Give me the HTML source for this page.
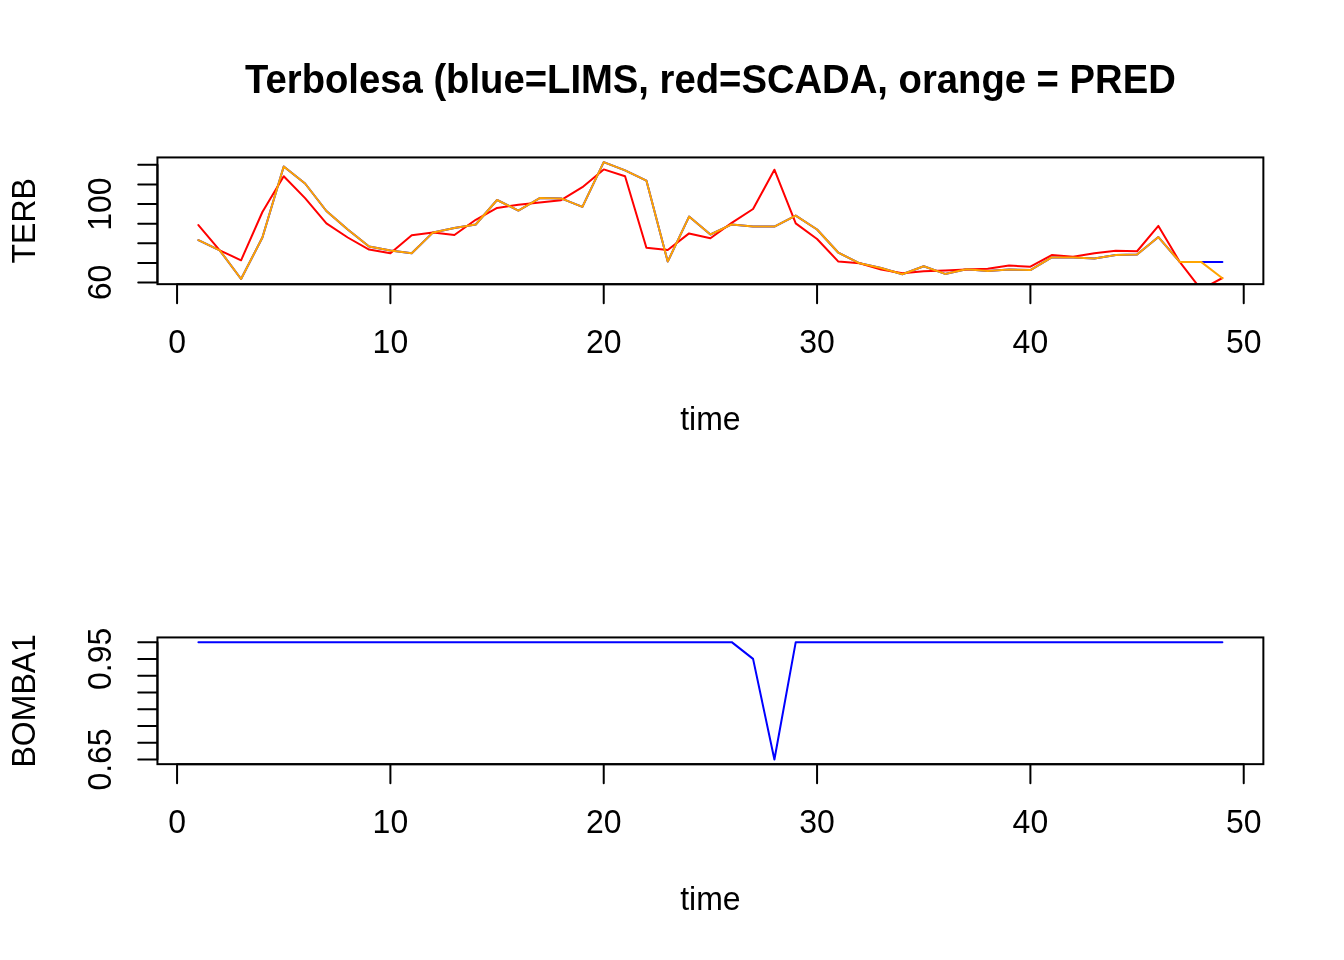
<!DOCTYPE html>
<html><head><meta charset="utf-8"><style>
html,body{margin:0;padding:0;background:#fff;}
svg{display:block;will-change:transform;}
.ax{font-family:"Liberation Sans",sans-serif;font-size:32px;fill:#000;}
.ti{font-family:"Liberation Sans",sans-serif;font-size:38.4px;font-weight:bold;fill:#000;}
</style></head><body>
<svg width="1344" height="960" viewBox="0 0 1344 960">
<rect width="1344" height="960" fill="#fff"/>
<text transform="translate(710.4,92.9) scale(0.996,1.055)" text-anchor="middle" class="ti">Terbolesa (blue=LIMS, red=SCADA, orange = PRED</text>
<clipPath id="c0"><rect x="157.44" y="157.44" width="1105.9199999999998" height="126.72000000000003"/></clipPath>
<g clip-path="url(#c0)" fill="none" stroke-width="2.0" stroke-linejoin="round" stroke-linecap="round">
<polyline stroke="#0000ff" points="198.40,240.10 219.73,250.30 241.07,279.00 262.40,237.50 283.73,166.50 305.07,183.50 326.40,211.00 347.73,229.50 369.07,246.50 390.40,250.60 411.73,253.30 433.07,232.40 454.40,228.00 475.73,224.50 497.07,200.00 518.40,210.60 539.73,198.10 561.07,198.40 582.40,206.90 603.73,162.13 625.07,170.40 646.40,180.60 667.73,261.60 689.07,216.60 710.40,234.50 731.73,224.40 753.07,226.60 774.40,226.60 795.73,215.60 817.07,229.50 838.40,252.70 859.73,263.30 881.07,268.00 902.40,274.30 923.73,266.30 945.07,273.90 966.40,269.20 987.73,271.00 1009.07,269.60 1030.40,270.10 1051.73,257.40 1073.07,257.60 1094.40,258.60 1115.73,255.10 1137.07,254.60 1158.40,237.10 1179.73,261.90 1201.07,261.90 1222.40,261.90"/>
<polyline stroke="#ff0000" points="198.40,225.10 219.73,250.30 241.07,260.30 262.40,212.00 283.73,176.20 305.07,198.10 326.40,223.40 347.73,237.50 369.07,249.60 390.40,253.30 411.73,235.30 433.07,232.40 454.40,235.00 475.73,219.80 497.07,207.90 518.40,204.70 539.73,202.50 561.07,200.20 582.40,187.20 603.73,169.40 625.07,176.30 646.40,247.70 667.73,250.00 689.07,233.40 710.40,238.20 731.73,222.90 753.07,209.00 774.40,169.70 795.73,223.40 817.07,239.00 838.40,261.60 859.73,263.30 881.07,269.60 902.40,273.30 923.73,271.20 945.07,270.40 966.40,269.50 987.73,268.80 1009.07,265.60 1030.40,266.70 1051.73,255.10 1073.07,256.80 1094.40,253.30 1115.73,250.70 1137.07,251.25 1158.40,225.90 1179.73,261.90 1201.07,289.50 1222.40,278.00"/>
<polyline stroke="#ffa500" points="198.40,240.10 219.73,250.30 241.07,279.00 262.40,237.50 283.73,166.50 305.07,183.50 326.40,211.00 347.73,229.50 369.07,246.50 390.40,250.60 411.73,253.30 433.07,232.40 454.40,228.00 475.73,224.50 497.07,200.00 518.40,210.60 539.73,198.10 561.07,198.40 582.40,206.90 603.73,162.13 625.07,170.40 646.40,180.60 667.73,261.60 689.07,216.60 710.40,234.50 731.73,224.40 753.07,226.60 774.40,226.60 795.73,215.60 817.07,229.50 838.40,252.70 859.73,263.30 881.07,268.00 902.40,274.30 923.73,266.30 945.07,273.90 966.40,269.20 987.73,271.00 1009.07,269.60 1030.40,270.10 1051.73,257.40 1073.07,257.60 1094.40,258.60 1115.73,255.10 1137.07,254.60 1158.40,237.10 1179.73,261.90 1201.07,261.90 1222.40,278.20"/>
</g>
<rect x="157.44" y="157.44" width="1105.92" height="126.72" fill="none" stroke="#000" stroke-width="2.0"/>
<path d="M177.07,284.16 H1243.73 M177.07,284.16 v19.2 M390.40,284.16 v19.2 M603.73,284.16 v19.2 M817.07,284.16 v19.2 M1030.40,284.16 v19.2 M1243.73,284.16 v19.2 M157.44,282.50 V164.80 M157.44,282.50 h-19.2 M157.44,262.88 h-19.2 M157.44,243.27 h-19.2 M157.44,223.65 h-19.2 M157.44,204.03 h-19.2 M157.44,184.41 h-19.2 M157.44,164.80 h-19.2 " fill="none" stroke="#000" stroke-width="2.0" stroke-linecap="round"/>
<text transform="translate(177.07,352.7) scale(1,1.045)" text-anchor="middle" class="ax">0</text>
<text transform="translate(390.40,352.7) scale(1,1.045)" text-anchor="middle" class="ax">10</text>
<text transform="translate(603.73,352.7) scale(1,1.045)" text-anchor="middle" class="ax">20</text>
<text transform="translate(817.07,352.7) scale(1,1.045)" text-anchor="middle" class="ax">30</text>
<text transform="translate(1030.40,352.7) scale(1,1.045)" text-anchor="middle" class="ax">40</text>
<text transform="translate(1243.73,352.7) scale(1,1.045)" text-anchor="middle" class="ax">50</text>
<text transform="translate(110.6,282.50) rotate(-90) scale(1,1.045)" text-anchor="middle" class="ax">60</text>
<text transform="translate(110.6,204.03) rotate(-90) scale(1,1.045)" text-anchor="middle" class="ax">100</text>
<text transform="translate(710.4,429.8) scale(1,1.045)" text-anchor="middle" class="ax">time</text>
<text transform="translate(35.2,220.8) rotate(-90) scale(1,1.045)" text-anchor="middle" class="ax">TERB</text>
<clipPath id="c480"><rect x="157.44" y="637.44" width="1105.9199999999998" height="126.72000000000003"/></clipPath>
<g clip-path="url(#c480)" fill="none" stroke-width="2.0" stroke-linejoin="round" stroke-linecap="round">
<polyline stroke="#0000ff" points="198.40,642.13 219.73,642.13 241.07,642.13 262.40,642.13 283.73,642.13 305.07,642.13 326.40,642.13 347.73,642.13 369.07,642.13 390.40,642.13 411.73,642.13 433.07,642.13 454.40,642.13 475.73,642.13 497.07,642.13 518.40,642.13 539.73,642.13 561.07,642.13 582.40,642.13 603.73,642.13 625.07,642.13 646.40,642.13 667.73,642.13 689.07,642.13 710.40,642.13 731.73,642.13 753.07,658.90 774.40,759.47 795.73,642.13 817.07,642.13 838.40,642.13 859.73,642.13 881.07,642.13 902.40,642.13 923.73,642.13 945.07,642.13 966.40,642.13 987.73,642.13 1009.07,642.13 1030.40,642.13 1051.73,642.13 1073.07,642.13 1094.40,642.13 1115.73,642.13 1137.07,642.13 1158.40,642.13 1179.73,642.13 1201.07,642.13 1222.40,642.13"/>
</g>
<rect x="157.44" y="637.44" width="1105.92" height="126.72" fill="none" stroke="#000" stroke-width="2.0"/>
<path d="M177.07,764.1600000000001 H1243.73 M177.07,764.1600000000001 v19.2 M390.40,764.1600000000001 v19.2 M603.73,764.1600000000001 v19.2 M817.07,764.1600000000001 v19.2 M1030.40,764.1600000000001 v19.2 M1243.73,764.1600000000001 v19.2 M157.44,759.47 V642.14 M157.44,759.47 h-19.2 M157.44,742.71 h-19.2 M157.44,725.95 h-19.2 M157.44,709.18 h-19.2 M157.44,692.42 h-19.2 M157.44,675.66 h-19.2 M157.44,658.90 h-19.2 M157.44,642.14 h-19.2 " fill="none" stroke="#000" stroke-width="2.0" stroke-linecap="round"/>
<text transform="translate(177.07,832.7) scale(1,1.045)" text-anchor="middle" class="ax">0</text>
<text transform="translate(390.40,832.7) scale(1,1.045)" text-anchor="middle" class="ax">10</text>
<text transform="translate(603.73,832.7) scale(1,1.045)" text-anchor="middle" class="ax">20</text>
<text transform="translate(817.07,832.7) scale(1,1.045)" text-anchor="middle" class="ax">30</text>
<text transform="translate(1030.40,832.7) scale(1,1.045)" text-anchor="middle" class="ax">40</text>
<text transform="translate(1243.73,832.7) scale(1,1.045)" text-anchor="middle" class="ax">50</text>
<text transform="translate(110.6,759.47) rotate(-90) scale(1,1.045)" text-anchor="middle" class="ax">0.65</text>
<text transform="translate(110.6,658.90) rotate(-90) scale(1,1.045)" text-anchor="middle" class="ax">0.95</text>
<text transform="translate(710.4,909.8) scale(1,1.045)" text-anchor="middle" class="ax">time</text>
<text transform="translate(35.2,700.8) rotate(-90) scale(1,1.045)" text-anchor="middle" class="ax">BOMBA1</text>
</svg>
</body></html>
